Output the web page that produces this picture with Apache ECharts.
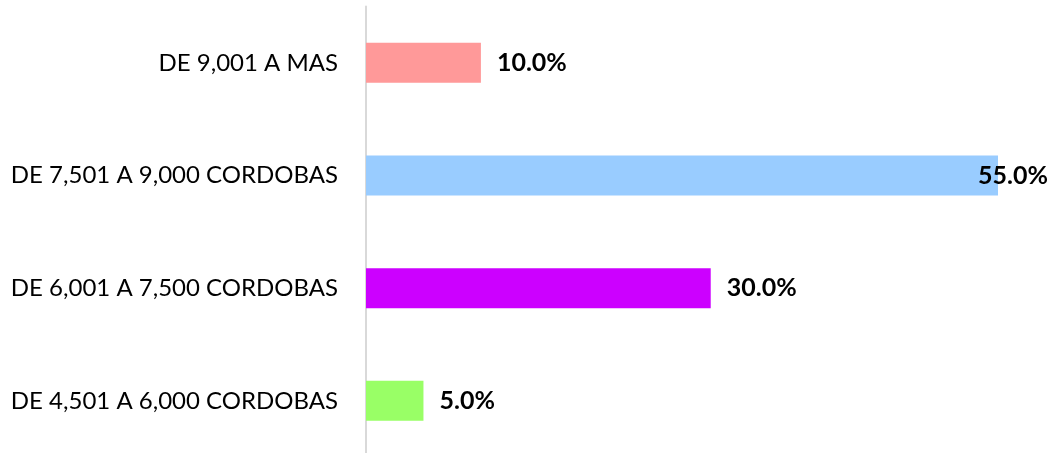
<!DOCTYPE html>
<html><head><meta charset="utf-8">
<script src="https://cdn.jsdelivr.net/npm/echarts@6/dist/echarts.min.js"></script>
<style>html,body{margin:0;padding:0;background:#fff}#c{width:1055px;height:453px}</style>
</head><body><div id="c"></div>
<script>
const categories = ["DE 4,501 A 6,000 CORDOBAS", "DE 6,001 A 7,500 CORDOBAS", "DE 7,501 A 9,000 CORDOBAS", "DE 9,001 A MAS"];
const values = [5.0, 30.0, 55.0, 10.0];
const colors = ["#99FF66", "#CC00FF", "#99CCFF", "#FF9999"];
const FONT = "Lato";
const chart = echarts.init(document.getElementById('c'), null, {renderer: 'canvas'});
chart.setOption({
  animation: false,
  grid: {left: 366, right: 57, top: 6.5, height: 450.7, outerBoundsMode: 'none'},
  xAxis: {type: 'value', min: 0, max: 55, show: false},
  yAxis: {
    type: 'category', data: categories,
    axisLine: {show: true, lineStyle: {color: '#d9d9d9', width: 2}},
    axisTick: {show: false},
    axisLabel: {color: '#000', fontFamily: FONT, fontSize: 24, margin: 28}
  },
  series: [{
    type: 'bar', barWidth: 40,
    data: values.map((v, i) => ({
      value: v,
      itemStyle: {color: colors[i]},
      label: v === Math.max(...values) ? {offset: [-36, 0]} : {}
    })),
    label: {
      show: true, position: 'right', distance: 16,
      color: '#000', fontFamily: FONT, fontWeight: 'bold', fontSize: 25,
      formatter: p => p.value.toFixed(1) + '%'
    }
  }]
});
</script></body></html>
